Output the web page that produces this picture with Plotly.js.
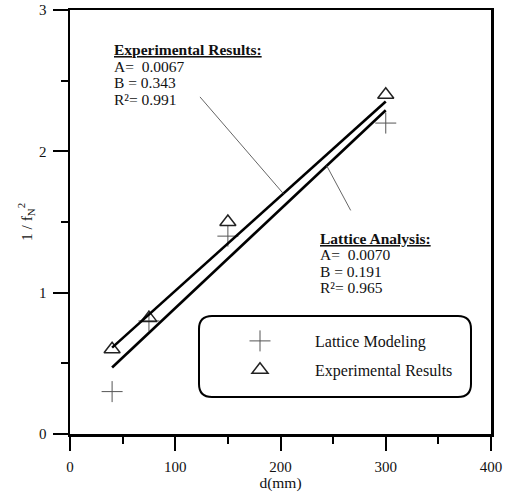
<!DOCTYPE html>
<html>
<head>
<meta charset="utf-8">
<script src="https://cdn.plot.ly/plotly-3.0.1.min.js"></script>
<style>
  html, body { margin: 0; padding: 0; background: #fff; }
  #chart { width: 509px; height: 494px; }
</style>
</head>
<body>
<div id="chart"></div>
<script>
// Specimen size d (mm) and measured 1/fN^2
const dLattice = [40, 75, 150, 300];
const invFLattice = [0.3, 0.8, 1.4, 2.2];
const dExperiment = [40, 75, 150, 300];
const invFExperiment = [0.6, 0.82, 1.5, 2.4];

// Linear fits y = A*d + B
const fitExperiment = { A: 0.0067, B: 0.343, R2: 0.991 };
const fitLattice = { A: 0.0070, B: 0.191, R2: 0.965 };
const fitRange = [40, 300];

const xTicks = [0, 100, 200, 300, 400];
const yTicks = [0, 1, 2, 3];

const serif = 'Liberation Serif, Times New Roman, serif';
const lineOf = (fit) => fitRange.map(d => fit.A * d + fit.B);

const traces = [
  {
    x: dLattice, y: invFLattice, mode: 'markers', name: 'Lattice Modeling',
    legendgroup: 'a',
    marker: { symbol: 'cross-thin-open', size: 15, color: '#555', line: { width: 1, color: '#555' } }
  },
  {
    x: dExperiment, y: invFExperiment, mode: 'markers', name: 'Experimental Results',
    legendgroup: 'b',
    marker: { symbol: 'triangle-up-open', size: 14, color: '#222', line: { width: 1.5, color: '#222' } }
  },
  {
    x: fitRange, y: lineOf(fitExperiment), mode: 'lines', showlegend: false,
    line: { color: '#000', width: 2.6 }, hoverinfo: 'skip'
  },
  {
    x: fitRange, y: lineOf(fitLattice), mode: 'lines', showlegend: false,
    line: { color: '#000', width: 2.6 }, hoverinfo: 'skip'
  }
];

// Plot area in pixels, used for the rounded legend frame
const W = 509, H = 494;
const M = { l: 70, r: 18, t: 10, b: 60 };
const pw = W - M.l - M.r, ph = H - M.t - M.b;
function roundedRect(px0, py0, px1, py1, r) {
  const X = p => (p - M.l) / pw;
  const Y = p => (H - M.b - p) / ph;
  const rx = r / pw, ry = r / ph;
  const x0 = X(px0), x1 = X(px1), yt = Y(py0), yb = Y(py1);
  return `M ${x0 + rx},${yt} L ${x1 - rx},${yt} Q ${x1},${yt} ${x1},${yt - ry} ` +
         `L ${x1},${yb + ry} Q ${x1},${yb} ${x1 - rx},${yb} ` +
         `L ${x0 + rx},${yb} Q ${x0},${yb} ${x0},${yb + ry} ` +
         `L ${x0},${yt - ry} Q ${x0},${yt} ${x0 + rx},${yt} Z`;
}

const expLeaderEnd = 202.7;
const latLeaderStart = 243.9;

const shapes = [
  {
    type: 'path', xref: 'paper', yref: 'paper',
    path: roundedRect(199, 316, 471, 397, 13),
    line: { color: '#000', width: 2 }, fillcolor: 'rgba(0,0,0,0)', layer: 'below'
  },
  {
    type: 'line', xref: 'x', yref: 'y',
    x0: 123.5, y0: 2.385,
    x1: expLeaderEnd, y1: fitExperiment.A * expLeaderEnd + fitExperiment.B,
    line: { color: '#666', width: 1 }
  },
  {
    type: 'line', xref: 'x', yref: 'y',
    x0: latLeaderStart, y0: fitLattice.A * latLeaderStart + fitLattice.B,
    x1: 266.7, y1: 1.582,
    line: { color: '#666', width: 1 }
  }
];

const noteFont = { family: serif, size: 15.5, color: '#111' };
function block(x, yTop, title, fit, A) {
  const lines = [
    `<b><u>${title}</u></b>`,
    `A=&nbsp;&nbsp;${A}`,
    `B = ${fit.B}`,
    `R²= ${fit.R2}`
  ];
  return lines.map((t, i) => ({
    xref: 'x', yref: 'paper', x: x, xanchor: 'left',
    y: yTop - i * (16.4 / ph), yanchor: 'middle',
    text: t, showarrow: false, font: noteFont
  }));
}
const annotations = [
  ...block(40, (H - M.b - 50) / ph, 'Experimental Results:', fitExperiment, '0.0067'),
  ...block(236, (H - M.b - 238.5) / ph, 'Lattice Analysis:', fitLattice, '0.0070')
];

const layout = {
  width: W, height: H,
  margin: M,
  paper_bgcolor: '#fff', plot_bgcolor: '#fff',
  font: { family: serif, color: '#111' },
  showlegend: true,
  legend: {
    x: (205 - M.l) / pw, xanchor: 'left',
    y: (H - M.b - 324) / ph, yanchor: 'top',
    bgcolor: 'rgba(0,0,0,0)', borderwidth: 0,
    font: { family: serif, size: 16, color: '#111' },
    itemwidth: 100, traceorder: 'grouped', tracegroupgap: 5
  },
  xaxis: {
    range: [0, 400], tickvals: xTicks, ticktext: xTicks.map(String),
    showgrid: false, zeroline: false,
    showline: true, mirror: true, linecolor: '#000', linewidth: 2.5,
    ticks: 'outside', ticklen: 14, tickwidth: 2, tickcolor: '#000',
    minor: { dtick: 50, tick0: 0, ticks: 'outside', ticklen: 7, tickwidth: 2, tickcolor: '#000', showgrid: false },
    tickfont: { family: serif, size: 15, color: '#111' },
    ticklabelstandoff: 3,
    title: { text: 'd(mm)', font: { family: serif, size: 15.5, color: '#111' }, standoff: 1 }
  },
  yaxis: {
    range: [0, 3], tickvals: yTicks, ticktext: yTicks.map(String),
    showgrid: false, zeroline: false,
    showline: true, mirror: true, linecolor: '#000', linewidth: 2.5,
    ticks: 'outside', ticklen: 15, tickwidth: 2, tickcolor: '#000',
    minor: { dtick: 0.5, tick0: 0, ticks: 'outside', ticklen: 7, tickwidth: 2, tickcolor: '#000', showgrid: false },
    tickfont: { family: serif, size: 15, color: '#111' },
    ticklabelstandoff: 3,
    title: { text: '1 / f<sub>N</sub><sup>2</sup>', font: { family: serif, size: 15.5, color: '#111' }, standoff: 3 }
  },
  shapes: shapes,
  annotations: annotations
};

Plotly.newPlot('chart', traces, layout, { displayModeBar: false, staticPlot: true });
</script>
</body>
</html>
